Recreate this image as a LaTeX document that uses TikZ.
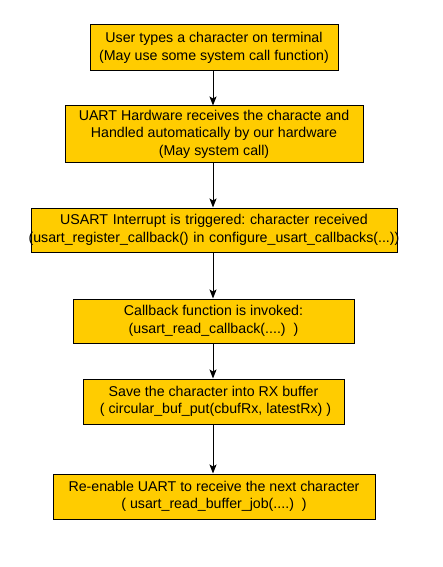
\documentclass[tikz,border=0pt]{standalone}
\usepackage{fontspec}
\setmainfont{Liberation Sans}
\usetikzlibrary{arrows.meta}
\definecolor{boxfill}{HTML}{FFCC00}
\frenchspacing
\tikzset{
  stepbox/.style={draw=black, line width=1pt, fill=boxfill, align=center,
    inner sep=0pt, font=\fontsize{14.2}{17.5}\selectfont, text=black},
  flowarrow/.style={draw=black, line width=1pt, -{Stealth[length=9pt,width=7pt,inset=2pt]}}
}
\begin{document}
\begin{tikzpicture}[x=1pt,y=1pt]
\useasboundingbox[fill=white] (0,0) rectangle (442,-567);
\node[stepbox, minimum width=248pt, minimum height=46pt] (b1) at (214,-48)
  {User types a character on terminal\\(May use some system call function)};
\node[stepbox, minimum width=298pt, minimum height=56pt] (b2) at (214,-134)
  {UART Hardware receives the characte and\\Handled automatically by our hardware\\(May system call)};
\node[stepbox, minimum width=366pt, minimum height=44pt, text width=366pt] (b3) at (214,-230)
  {USART Interrupt is triggered: character received\\\makebox[366pt][c]{(usart\_register\_callback() in configure\_usart\_callbacks(...))}};
\node[stepbox, minimum width=281pt, minimum height=44pt] (b4) at (213.5,-321)
  {Callback function is invoked:\\(usart\_read\_callback(....)\ \ )};
\node[stepbox, minimum width=261pt, minimum height=45pt] (b5) at (213.5,-401.5)
  {Save the character into RX buffer\\\ ( circular\_buf\_put(cbufRx, latestRx) )};
\node[stepbox, minimum width=322pt, minimum height=45pt] (b6) at (214,-496.5)
  {Re-enable UART to receive the next character\\( usart\_read\_buffer\_job(....)\ \ )};
\draw[flowarrow] (b1.south -| 213,0) -- (b2.north -| 213,0);
\draw[flowarrow] (b2.south -| 213,0) -- (b3.north -| 213,0);
\draw[flowarrow] (b3.south -| 213,0) -- (b4.north -| 213,0);
\draw[flowarrow] (b4.south -| 213,0) -- (b5.north -| 213,0);
\draw[flowarrow] (b5.south -| 213,0) -- (b6.north -| 213,0);
\end{tikzpicture}
\end{document}
